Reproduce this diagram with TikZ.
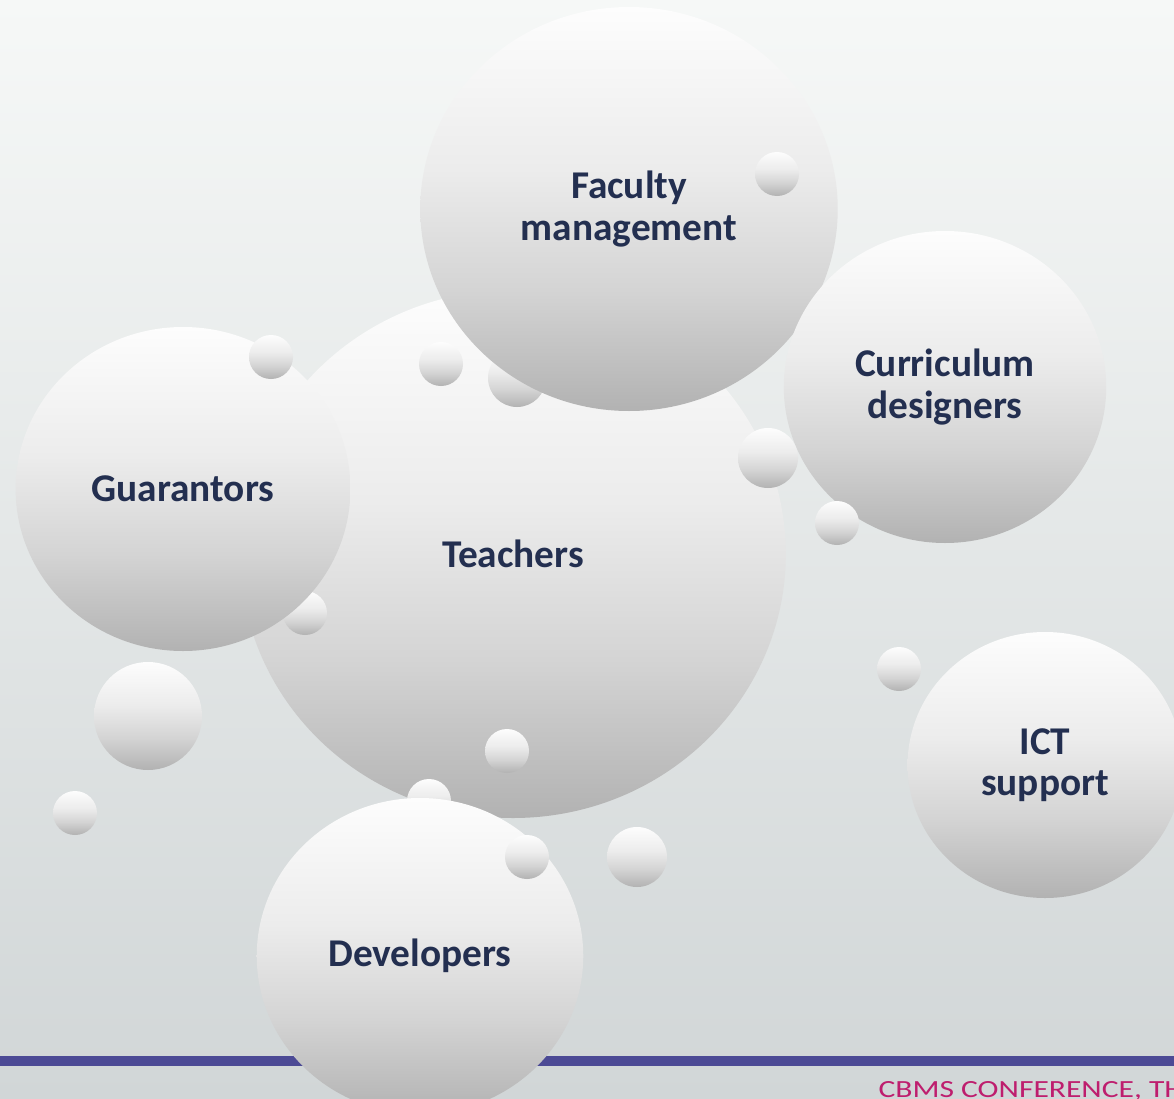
\documentclass[tikz,border=0pt]{standalone}
\usepackage{fontspec}
\setmainfont{Carlito}
\newfontfamily\footfont[FakeStretch=1.28]{Carlito}
\usetikzlibrary{shapes.geometric}

\definecolor{bubdark}{RGB}{178,178,178}
\definecolor{bubmid}{RGB}{212,212,212}
\definecolor{bublight}{RGB}{236,236,236}
\definecolor{bubtop}{RGB}{253,253,253}
\definecolor{navytext}{RGB}{35,47,80}
\definecolor{bartone}{RGB}{76,74,149}
\definecolor{footpink}{RGB}{190,30,110}
\definecolor{bgtop}{RGB}{246,248,247}
\definecolor{bgbottom}{RGB}{209,214,215}

\pgfdeclareverticalshading{bubbly}{100bp}{color(0bp)=(bubdark); color(25bp)=(bubdark); color(40bp)=(bubmid); color(55bp)=(bublight); color(75bp)=(bubtop); color(100bp)=(bubtop)}

\tikzset{every picture/.style={line width=0.75pt}}

\begin{document}
\begin{tikzpicture}[x=0.75pt,y=0.75pt,yscale=-1,xscale=1,
  bubble/.style={ellipse, shading=bubbly, draw=none, inner sep=0pt,
    minimum height=#1*1.5pt, minimum width=#1*1.55pt,
    text=navytext, align=center, font=\bfseries\fontsize{29.5}{31}\selectfont},
  drop/.style={circle, shading=bubbly, draw=none, inner sep=0pt, minimum size=#1*1.5pt}]
\useasboundingbox (0,0) rectangle (1174,1099);
\clip (0,0) rectangle (1174,1099);

%Shape: Background
\shade [top color=bgtop, bottom color=bgbottom] (0,0) rectangle (1174,1099);
%Shape: Footer bar
\fill [bartone] (0,1056) rectangle (1174,1066);
% Text Node
\node [anchor=base west, text=footpink, font=\footfont\fontsize{18.5}{20}\selectfont, inner sep=0pt] (footer) at (878,1097) {CBMS CONFERENCE, TH};

%Shape: Big bubbles and drops, back to front
\node [bubble=264] (teachers) at (513,554) {Teachers};
\node [drop=29] (d1) at (517,378) {};
\node [drop=22] (d2) at (441,364) {};
\node [bubble=202] (faculty) at (629,209) {Faculty\\management};
\node [bubble=156] (curriculum) at (945,387) {Curriculum\\designers};
\node [drop=22] (d3) at (305,613) {};
\node [bubble=162] (guarantors) at (183,489) {Guarantors};
\node [drop=22] (d4) at (271,357) {};
\node [drop=22] (d5) at (429,801) {};
\node [bubble=158] (developers) at (420,956) {Developers};

%Shape: Small drops on top
\foreach \nm/\px/\py/\rr in {d6/777/174/22, d7/768/458/30, d8/837/523/22, d9/148/716/54,
    d10/899/669/22, d11/507/751/22, d12/75/813/22, d13/527/857/22, d14/637/857/30}
  \node [drop=\rr] (\nm) at (\px,\py) {};

\node [bubble=133] (ict) at (1045,765) {ICT\\support};

\end{tikzpicture}
\end{document}
